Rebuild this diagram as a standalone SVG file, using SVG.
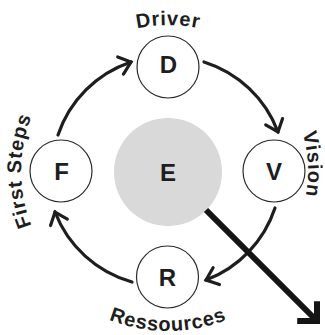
<svg xmlns="http://www.w3.org/2000/svg" width="325" height="335" viewBox="0 0 325 335">
  <style>
    .node { fill: #ffffff; stroke: #2a2a2a; stroke-width: 1.2; }
    .core { fill: #d9d9da; stroke: none; }
    .letter { font-family: "Liberation Sans", Arial, sans-serif; font-weight: bold; font-size: 24px; fill: #1e1e1e; text-anchor: middle; }
    .label { font-family: "Liberation Sans", Arial, sans-serif; font-weight: bold; font-size: 20px; fill: #1e1e1e; letter-spacing: 0.8px; }
    .flow { fill: none; stroke: #1e1e1e; stroke-width: 3.2; stroke-linecap: round; }
    .out { fill: none; stroke: #151515; stroke-width: 6; }
  </style>
  <defs>
    <marker id="chev" markerUnits="userSpaceOnUse" markerWidth="30" markerHeight="30" refX="0" refY="0" viewBox="-15 -15 30 30" orient="auto">
      <path d="M-11,-9 L0,0 L-11,9" fill="none" stroke="#1e1e1e" stroke-width="3.2" stroke-linecap="round" stroke-linejoin="miter"/>
    </marker>
    <marker id="chevBig" markerUnits="userSpaceOnUse" markerWidth="40" markerHeight="40" refX="0" refY="0" viewBox="-20 -20 40 40" orient="auto">
      <path d="M-14,-14 L0,0 L-14,14" fill="none" stroke="#151515" stroke-width="6" stroke-linejoin="miter"/>
    </marker>
    <!-- label baselines around the ring centre (168,171) -->
    <path id="arcTop" d="M22,171 A146,146 0 0 1 314,171"/>
    <path id="arcRight" d="M168,31 A140,140 0 0 1 168,311"/>
    <path id="arcLeft" d="M168,318 A147,147 0 0 1 168,24"/>
    <path id="arcBottom" d="M8,171 A160,160 0 0 0 328,171"/>
  </defs>

  <!-- central element -->
  <g id="node-e">
    <circle class="core" cx="168" cy="172" r="54"/>
    <text class="letter" x="168" y="181">E</text>
  </g>

  <!-- cycle connectors and the outgoing arrow -->
  <g id="connectors">
    <path class="flow" d="M58,135 A116,116 0 0 1 131,62" marker-end="url(#chev)"/>
    <path class="flow" d="M204,62 A116,116 0 0 1 278,132" marker-end="url(#chev)"/>
    <path class="flow" d="M275,208 A116,116 0 0 1 206,280" marker-end="url(#chev)"/>
    <path class="flow" d="M132,282 A116,116 0 0 1 55,212" marker-end="url(#chev)"/>
    <path class="out" d="M206,210 L317,321" marker-end="url(#chevBig)"/>
  </g>

  <g id="node-d">
    <circle class="node" cx="168" cy="67" r="31"/>
    <text class="letter" x="168.5" y="73">D</text>
    <text class="label" text-anchor="middle"><textPath href="#arcTop" startOffset="50%">Driver</textPath></text>
  </g>

  <g id="node-v">
    <circle class="node" cx="274" cy="171" r="31"/>
    <text class="letter" x="274" y="180">V</text>
    <text class="label" text-anchor="middle" font-size="19"><textPath href="#arcRight" startOffset="48.5%">Vision</textPath></text>
  </g>

  <g id="node-r">
    <circle class="node" cx="167.5" cy="277" r="31"/>
    <text class="letter" x="167.5" y="286">R</text>
    <text class="label" text-anchor="middle"><textPath href="#arcBottom" startOffset="50%">Ressources</textPath></text>
  </g>

  <g id="node-f">
    <circle class="node" cx="61" cy="171" r="31"/>
    <text class="letter" x="61.5" y="180">F</text>
    <text class="label" text-anchor="middle"><textPath href="#arcLeft" startOffset="50%">First Steps</textPath></text>
  </g>
</svg>
